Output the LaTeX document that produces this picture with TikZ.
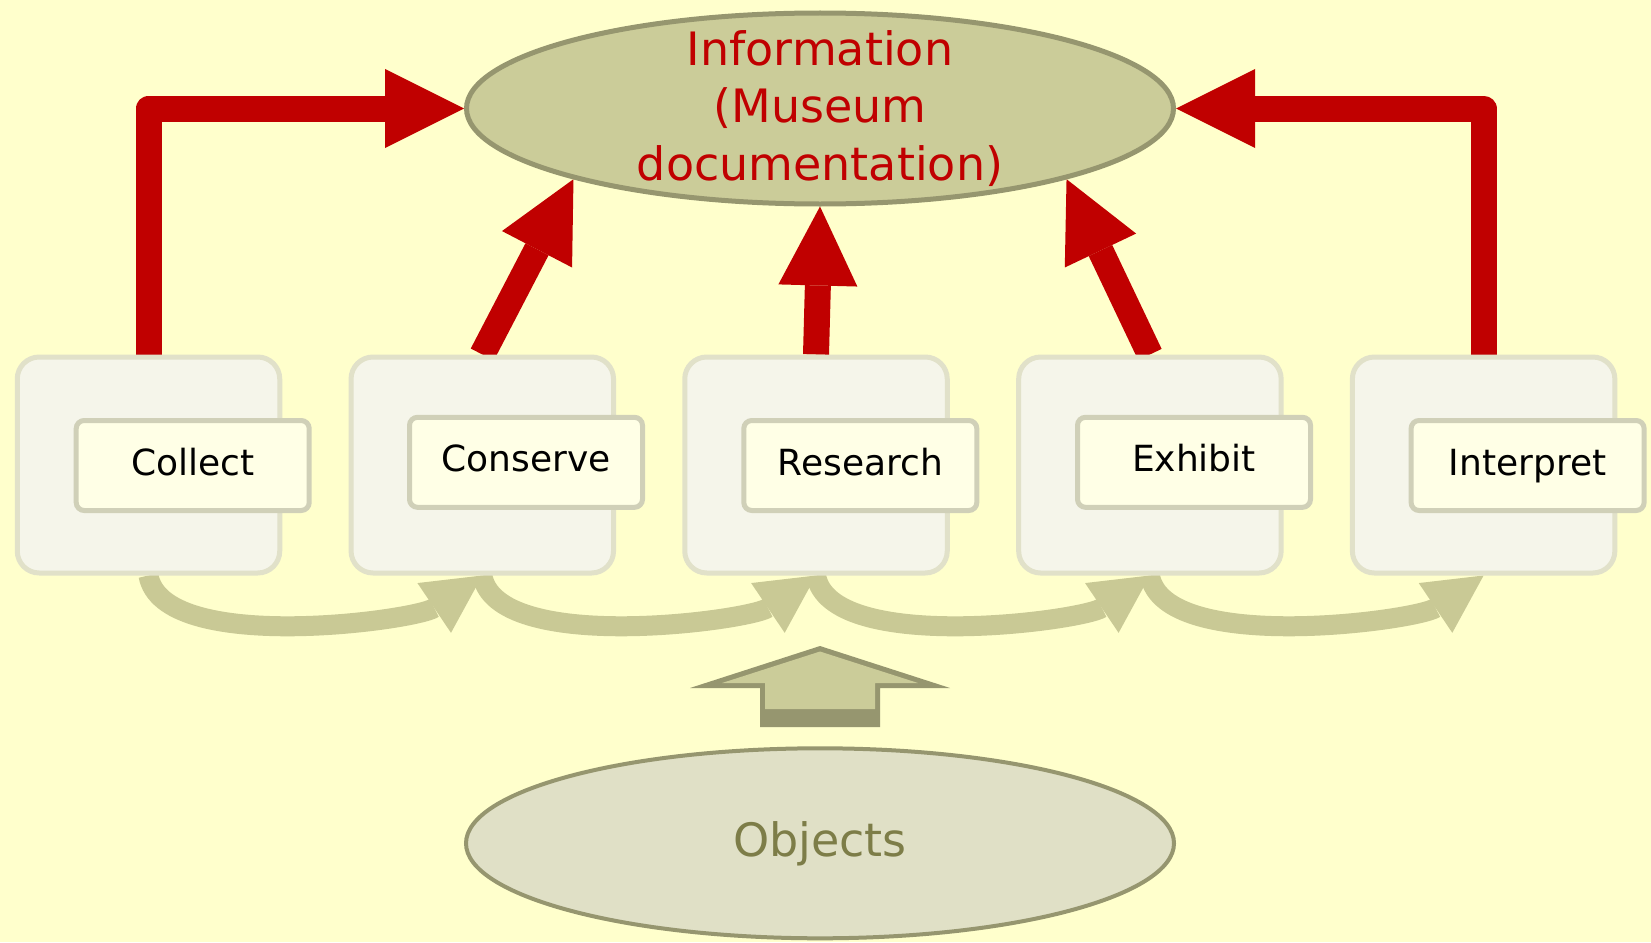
\documentclass[tikz,border=0pt]{standalone}
\usepackage{fontspec}
\setmainfont{DejaVu Sans}
\usetikzlibrary{arrows.meta,shapes.geometric}

\definecolor{paper}{HTML}{FFFFCC}
\definecolor{infored}{HTML}{C00000}
\definecolor{olivefill}{HTML}{CBCC99}
\definecolor{oliveedge}{HTML}{96966F}
\definecolor{objfill}{HTML}{E0E0C6}
\definecolor{objtext}{HTML}{7D7D48}
\definecolor{stagefill}{HTML}{F5F5EA}
\definecolor{stageedge}{HTML}{E1E1C9}
\definecolor{labfill}{HTML}{FFFFE6}
\definecolor{labedge}{HTML}{D0D0B8}
\definecolor{flowcol}{HTML}{C9C995}

\pgfdeclarelayer{backdrop}
\pgfdeclarelayer{links}
\pgfsetlayers{backdrop,links,main}

\begin{document}
\begin{tikzpicture}[x=1pt,y=1pt,
  stage/.style={draw=stageedge, fill=stagefill, line width=5pt,
    rounded corners=22pt, minimum width=262.5pt, minimum height=216pt, inner sep=0pt},
  lab/.style={draw=labedge, fill=labfill, line width=5pt,
    rounded corners=8pt, minimum width=233pt, minimum height=90pt, inner sep=0pt,
    font=\fontsize{36}{42}\selectfont, text height=28pt, text depth=9pt},
  infoshape/.style={ellipse, draw=oliveedge, fill=olivefill, line width=5pt,
    minimum width=707pt, minimum height=191pt, inner sep=0pt},
  infotext/.style={align=center, inner sep=0pt, text=infored,
    font=\fontsize{46}{57.5}\selectfont},
  objshape/.style={ellipse, draw=oliveedge, fill=objfill, line width=4pt,
    minimum width=708pt, minimum height=190pt, inner sep=0pt,
    text=objtext, font=\fontsize{46}{55}\selectfont},
  redarrow/.style={draw=infored, line width=26pt, line join=round,
    -{Triangle[length=79pt,width=79pt,line width=0pt]}},
  flowarrow/.style={draw=flowcol, line width=20pt,
    -{Triangle[length=58pt,width=60pt,line width=0pt]}},
]

\begin{pgfonlayer}{backdrop}
  \fill[paper] (0,0) rectangle (1651,-942);
\end{pgfonlayer}
\useasboundingbox (0,0) rectangle (1651,-942);

% information store and the objects
\node[infoshape] (info) at (820,-108.5) {};
\node[infotext] (infolabel) at (info.center) {Information\\(Museum\\documentation)};
\node[objshape] (objects) at (820,-843.3) {Objects};

% the five stages
\node[stage] (s1) at (148.5,-465) {};
\node[stage] (s2) at (482.3,-465) {};
\node[stage] (s3) at (816,-465) {};
\node[stage] (s4) at (1149.9,-465) {};
\node[stage] (s5) at (1483.6,-465) {};

\node[lab] (collect)   at (192.7,-465.5)  {Collect};
\node[lab] (conserve)  at (526,-462.3)    {Conserve};
\node[lab] (research)  at (860.3,-465.5)  {Research};
\node[lab] (exhibit)   at (1194,-462.3)   {Exhibit};
\node[lab] (interpret) at (1527.6,-465.5) {Interpret};

% objects feed the process
\fill[oliveedge] (820,-646) -- (690,-688) -- (760,-688) -- (760,-727)
  -- (880,-727) -- (880,-688) -- (950,-688) -- cycle;
\fill[olivefill] (820,-651.5) -- (722,-683) -- (765,-683) -- (765,-709)
  -- (875,-709) -- (875,-683) -- (918,-683) -- cycle;

\begin{pgfonlayer}{links}
  % every stage writes to the documentation
  \draw[redarrow] (s1.north) |- (info.west);
  \draw[redarrow] (s2.north) -- (info.196);
  \draw[redarrow] (s3.north) -- (info.south);
  \draw[redarrow] (s4.north) -- (info.344);
  \draw[redarrow] (s5.north) |- (info.east);

  % flow from one stage to the next
  \draw[flowarrow] (s1.south) to[out=-80,in=-146,looseness=0.62] (s2.south);
  \draw[flowarrow] (s2.south) to[out=-80,in=-146,looseness=0.62] (s3.south);
  \draw[flowarrow] (s3.south) to[out=-80,in=-146,looseness=0.62] (s4.south);
  \draw[flowarrow] (s4.south) to[out=-80,in=-146,looseness=0.62] (s5.south);
\end{pgfonlayer}

\end{tikzpicture}
\end{document}
